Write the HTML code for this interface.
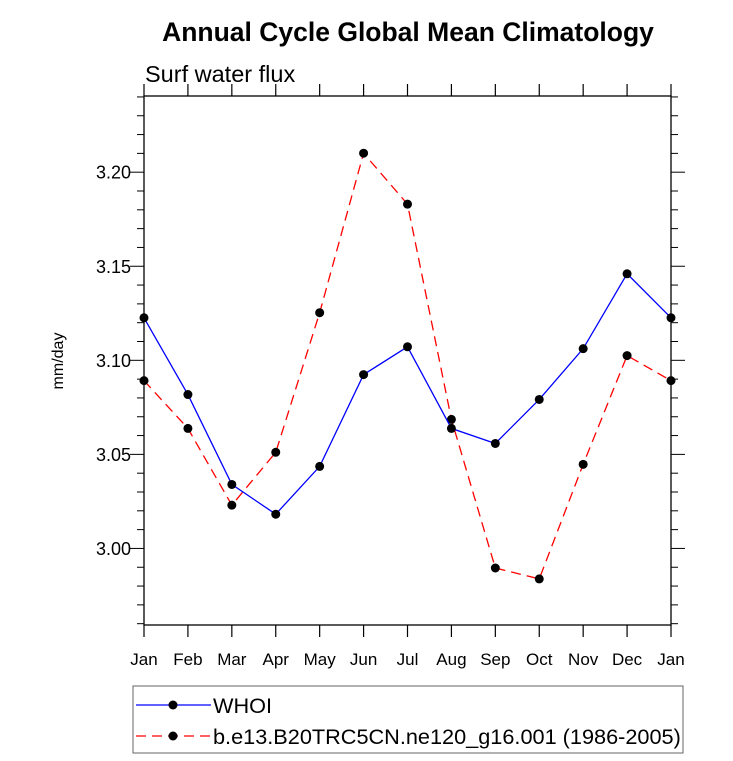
<!DOCTYPE html>
<html><head><meta charset="utf-8"><style>body{margin:0;background:#fff}svg{display:block}text{font-family:"Liberation Sans",sans-serif}</style></head>
<body>
<svg id="chart" width="733" height="761" xmlns="http://www.w3.org/2000/svg">
<text x="408" y="41" text-anchor="middle" font-size="26.5" font-weight="bold">Annual Cycle Global Mean Climatology</text>
<text x="145" y="82" font-size="23.5">Surf water flux</text>
<text transform="translate(63,361) rotate(-90)" text-anchor="middle" font-size="16">mm/day</text>
<g id="axes"></g>
<g id="series"></g>
<g>
<rect x="133" y="686" width="550" height="67" fill="none" stroke="#666" stroke-width="1"/>
<line x1="136" y1="705" x2="211" y2="705" stroke="#0000ff" stroke-width="1.3"/>
<circle cx="173" cy="705" r="4.5" fill="#000"/>
<text x="213" y="713" font-size="21.7">WHOI</text>
<line x1="136" y1="736" x2="211" y2="736" stroke="#ff0000" stroke-width="1.3" stroke-dasharray="10,6"/>
<circle cx="173" cy="736" r="4.5" fill="#000"/>
<text x="213" y="744" font-size="21.7">b.e13.B20TRC5CN.ne120_g16.001 (1986-2005)</text>
</g>
</svg>
<script>
const months=["Jan","Feb","Mar","Apr","May","Jun","Jul","Aug","Sep","Oct","Nov","Dec","Jan"];
const whoi=[3.1226,3.0818,3.034,3.0182,3.0436,3.0924,3.1072,3.0638,3.0558,3.0792,3.1062,3.146,3.1226];
const model=[3.0892,3.0638,3.023,3.0511,3.1253,3.2101,3.183,3.0686,2.9896,2.9838,3.0447,3.1025,3.0892];
const yTicks=[3.00,3.05,3.10,3.15,3.20];
const yMin=2.9593,yMax=3.2405;
const L=144,R=671,T=96,B=625;
const NS="http://www.w3.org/2000/svg";
const xs=i=>L+(R-L)*i/12;
const ys=v=>B-(v-yMin)/(yMax-yMin)*(B-T);
function mk(tag,attrs,parent){const e=document.createElementNS(NS,tag);for(const k in attrs)e.setAttribute(k,attrs[k]);parent.appendChild(e);return e;}
const ax=document.getElementById('axes');
const frame=mk('rect',{x:L,y:T,width:R-L,height:B-T,fill:'none',stroke:'#000','stroke-width':1.3},ax);


months.forEach((m,i)=>{
 const x=xs(i);
 mk('line',{x1:x,y1:B,x2:x,y2:B+12,stroke:'#000','stroke-width':1.2},ax);
 mk('line',{x1:x,y1:T,x2:x,y2:T-12,stroke:'#000','stroke-width':1.2},ax);
 const t=mk('text',{x:x,y:B+40,'text-anchor':'middle','font-size':17},ax);
 t.textContent=m;
 
 
});
for(let v=2.96;v<=3.2401;v+=0.01){
 const y=ys(v);const major=Math.abs(Math.round(v*100)%5)===0;const len=major?14:7;
 mk('line',{x1:L,y1:y,x2:L-len,y2:y,stroke:'#000','stroke-width':1},ax);
 mk('line',{x1:R,y1:y,x2:R+len,y2:y,stroke:'#000','stroke-width':1},ax);
}
yTicks.forEach(v=>{
 const t=mk('text',{x:L-13,y:ys(v)+6.5,'text-anchor':'end','font-size':18},ax);
 t.textContent=v.toFixed(2);
 
 
});
const sg=document.getElementById('series');
function series(vals,color,dash,name){
 const p=mk('polyline',{points:vals.map((v,i)=>xs(i)+','+ys(v)).join(' '),fill:'none',stroke:color,'stroke-width':1.3,'stroke-dasharray':dash},sg);
 
 
 vals.forEach((v,i)=>{
  const c=mk('circle',{cx:xs(i),cy:ys(v),r:4.5,fill:'#000'},sg);
  
  
 });
}
series(model,'#ff0000','10,6','model');
series(whoi,'#0000ff','none','whoi');
</script>
</body></html>
